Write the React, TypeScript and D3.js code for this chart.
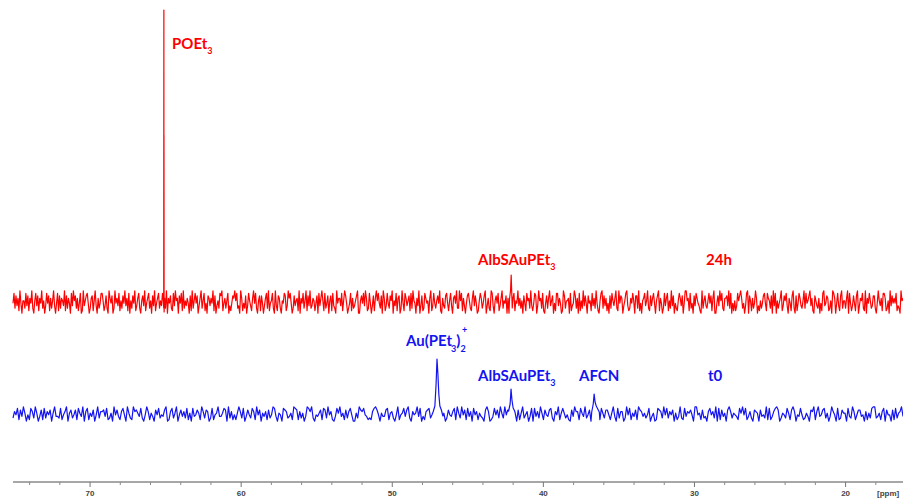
import React from 'react';
import * as d3 from 'd3';

const PPM_LEFT = 75.1;
const PPM_RIGHT = 16.2;
const majorTicks = [70, 60, 50, 40, 30, 20];
const minorTicks = [74, 72, 68, 66, 64, 62, 58, 56, 54, 52, 48, 46, 44, 42, 38, 36, 34, 32, 28, 26, 24, 22, 18];

// baseline noise of the 24h spectrum, one digit per sample (0..9 around 4.5)
const redNoise = [
  '48273619405528371649205837164925038471625930481726',
  '53917264083957261480193578402671593062488513720964',
  '70294638152749361805274913682057391468250739146825',
  '38152906472183956074819253640719258470369258140763',
  '64917035287914625803147695823096142703853169482057',
  '17403682914582093176205487139684027356190648259173',
  '92365147083695182470571832094663815974024816235790',
  '05748396128403716958427096138427590538167029418635',
  '71829540639037128645069138425749106327841583067492',
  '29581630478521693740158624790362198305748136925470',
  '60397281549362507418562931487039562810472693570418',
  '83640197255608134972608152937407451836294105892736',
  '14072853692194760358931264850772914056835921736840',
  '57916402836815293704215863704995618240738643109257',
  '32584716900473958216673928041513857962403890751624',
  '96031524784186527093805246913758306417920714863259',
  '28457936107532604189347612509860483179255269084137',
  '41790365821906485237720495361886125093746481320956',
].join('');

// baseline noise of the t0 spectrum
const blueNoise = [
  '26481739504186295037182647059332814690572471853906',
  '81537049266738125094731684095219675382049615307482',
  '43790168259047362815083475196276028145933587092614',
  '15962803742861947053617249830540876235198716250398',
  '69204357187294610385935172684005297684312168974053',
  '37815620491458379206459380316782450917365027436819',
  '52947183608461532079601384729529476138507159246038',
  '08362951743782064915852410739661853924704390618527',
  '74159308266029481537197635248035018762948264705139',
  '21836574099451723068462908173507962543185948136207',
  '65073429181368970254285179604384125307691693478250',
  '39640812755083296147734061528992351680744071825693',
].join('');

// peaks: [ppm, intensity] (descending ppm)
const redPeaks: [number, number][][] = [
  [[65.16, 3], [65.125, -6], [65.115, 292], [65.112, 20], [65.108, 167], [65.10, -10], [65.07, 4]],
  [[42.24, 3], [42.17, 12], [42.13, 27], [42.10, 12], [42.06, -6], [42.01, 4]],
];
const bluePeaks: [number, number][][] = [
  [[47.3, 2], [47.18, 8], [47.1, 30], [47.04, 55], [46.98, 40], [46.92, 20], [46.85, 8], [46.75, 4], [46.65, -2]],
  [[42.3, 3], [42.2, 10], [42.14, 25], [42.08, 14], [42.0, 6], [41.9, 3]],
  [[36.8, 2], [36.7, 10], [36.64, 20], [36.58, 12], [36.5, 8], [36.4, 5], [36.3, 2]],
];

const RED_SCALE = 2.5;
const BLUE_SCALE = 1.6;

function buildSeries(noise: string, scale: number, peaks: [number, number][][]) {
  const n = noise.length;
  const pts: [number, number][] = [];
  for (let i = 0; i < n; i++) {
    const ppm = PPM_LEFT + ((PPM_RIGHT - PPM_LEFT) * i) / (n - 1);
    if (peaks.some((p) => ppm <= p[0][0] && ppm >= p[p.length - 1][0])) continue;
    pts.push([ppm, (+noise[i] - 4.5) * scale]);
  }
  peaks.forEach((p) => p.forEach((q) => pts.push(q)));
  pts.sort((a, b) => b[0] - a[0]);
  return pts;
}

const W = 903;
const H = 502;

export default function App() {
  const x = d3.scaleLinear().domain([PPM_LEFT, PPM_RIGHT]).range([13, 903]);
  const yRed = d3.scaleLinear().domain([0, 292]).range([302, 10]);
  const yBlue = d3.scaleLinear().domain([0, 55]).range([414, 359]);
  const redPts = buildSeries(redNoise, RED_SCALE, redPeaks);
  const bluePts = buildSeries(blueNoise, BLUE_SCALE, bluePeaks);
  const redLine = d3.line<[number, number]>().x((d) => x(d[0])).y((d) => yRed(d[1]))(redPts) || '';
  const blueLine = d3.line<[number, number]>().x((d) => x(d[0])).y((d) => yBlue(d[1]))(bluePts) || '';
  const axisY = 482;
  const font = 'Lato, "Open Sans", sans-serif';
  const red = '#ff0000';
  const blue = '#1414f0';
  return (
    <svg width={W} height={H} style={{ position: 'absolute', left: 0, top: 0, background: '#fff' }}>
      <path d={redLine} fill="none" stroke={red} strokeWidth={1.2} strokeLinejoin="round" />
      <path d={blueLine} fill="none" stroke={blue} strokeWidth={1.2} strokeLinejoin="round" />
      {/* axis */}
      <line x1={13} x2={903} y1={axisY} y2={axisY} stroke="#8a8a8a" strokeWidth={1.5} />
      {minorTicks.map((t) => (
        <line key={'m' + t} x1={x(t)} x2={x(t)} y1={axisY} y2={axisY + 3} stroke="#8a8a8a" strokeWidth={1} />
      ))}
      {majorTicks.map((t) => (
        <g key={'M' + t}>
          <line x1={x(t)} x2={x(t)} y1={axisY} y2={axisY + 5} stroke="#777" strokeWidth={1} />
          <text x={x(t)} y={axisY + 14} textAnchor="middle" fontFamily="Arial, sans-serif" fontWeight="bold" fontSize={8} fill="#444">
            {t}
          </text>
        </g>
      ))}
      <text x={877} y={axisY + 14} fontFamily="Arial, sans-serif" fontWeight="bold" fontSize={8} fill="#444">[ppm]</text>
      {/* labels */}
      <g fontFamily={font} fontWeight="bold" fontSize={15}>
        <text x={172} y={49} fill={red}>POEt<tspan dy={5} fontSize={9}>3</tspan></text>
        <text x={478} y={265} fill={red}>AlbSAuPEt<tspan dy={5} fontSize={9}>3</tspan></text>
        <text x={706} y={265} fill={red}>24h</text>
        <text x={406} y={346} fill={blue}>Au(PEt<tspan dy={6} dx={-1} fontSize={9}>3</tspan><tspan dy={-6}>)</tspan><tspan dy={6} fontSize={9}>2</tspan></text>
        <text x={462} y={333} fill={blue} fontSize={9}>+</text>
        <text x={478} y={381} fill={blue}>AlbSAuPEt<tspan dy={5} fontSize={9}>3</tspan></text>
        <text x={579} y={381} fill={blue}>AFCN</text>
        <text x={708} y={381} fill={blue}>t0</text>
      </g>
    </svg>
  );
}
